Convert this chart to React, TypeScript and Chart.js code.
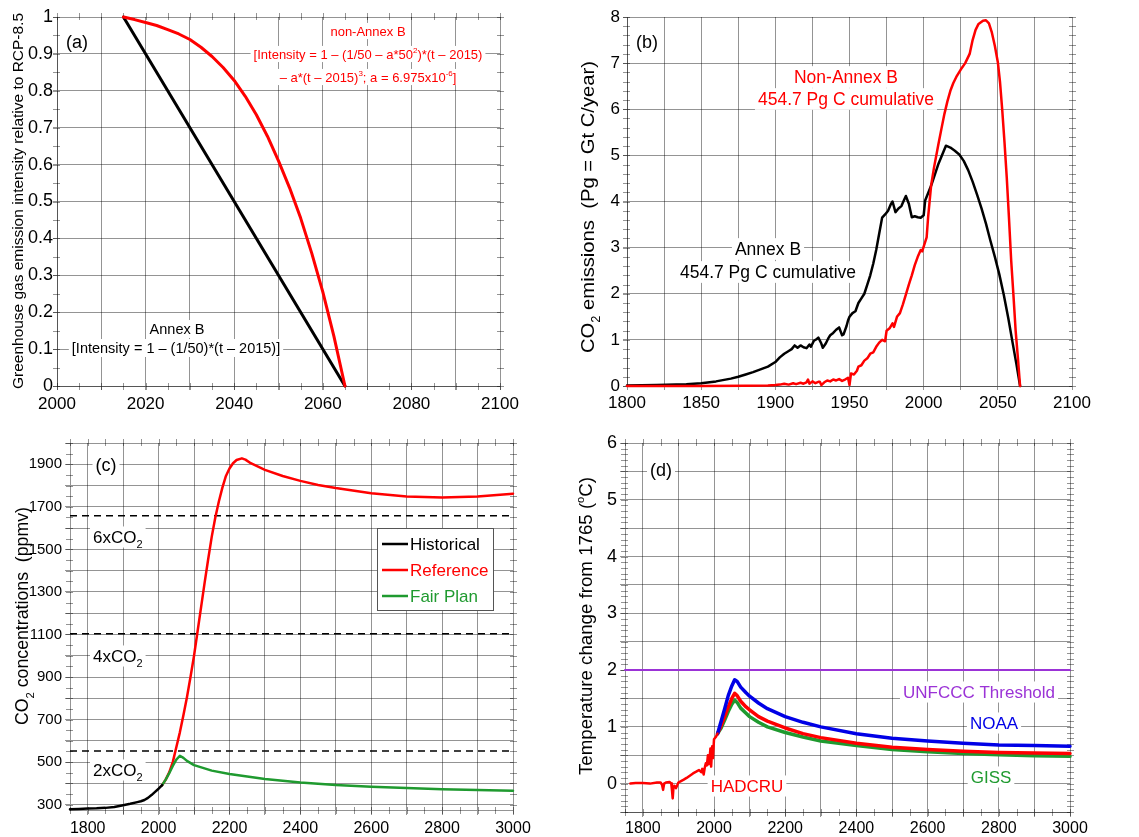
import React, { useEffect, useRef } from 'react';
import { Chart, registerables } from 'chart.js';

Chart.register(...registerables);

type Pt = [number, number];
type Part = [string, '' | 'sub' | 'sup'];

const FONT = "'Liberation Sans', Arial, Helvetica, sans-serif";
const RED = '#ff0000';
const GREEN = '#1f9a2f';
const BLUE = '#0000e6';
const PURPLE = '#9b33d6';
const GRID = 'rgba(0,0,0,0.42)';

// ---------- Panel (a): emission intensity relative to RCP-8.5 ----------
const annexBIntensity: Pt[] = [[2015, 1.0], [2065, 0.0]];
const nonAnnexBIntensity: Pt[] = [
  [2015, 1.0], [2017.5, 0.993], [2020, 0.985], [2022.5, 0.977], [2025, 0.966], [2027.5, 0.954],
  [2030, 0.939], [2032.5, 0.918], [2035, 0.893], [2037.5, 0.863], [2040, 0.828], [2042.5, 0.785],
  [2045, 0.735], [2047.5, 0.677], [2050, 0.61], [2052.5, 0.537], [2055, 0.455], [2057.5, 0.36],
  [2060, 0.255], [2062.5, 0.135], [2065, 0.0],
];

// ---------- Panel (b): CO2 emissions (Pg C / year) ----------
const annexBEmissions: Pt[] = [
  [1800, 0.01], [1820, 0.02], [1840, 0.04], [1850, 0.06], [1860, 0.1], [1870, 0.16], [1875, 0.2],
  [1880, 0.25], [1885, 0.3], [1890, 0.36], [1895, 0.42], [1900, 0.52], [1903, 0.62], [1906, 0.7],
  [1909, 0.76], [1911, 0.8], [1913, 0.88], [1915, 0.83], [1917, 0.88], [1919, 0.84], [1921, 0.82],
  [1923, 0.9], [1924, 0.85], [1926, 0.98], [1928, 1.02], [1929, 1.05], [1931, 0.92], [1932, 0.83],
  [1934, 0.92], [1936, 1.05], [1937, 1.1], [1939, 1.15], [1941, 1.22], [1943, 1.27], [1945, 1.1],
  [1946, 1.12], [1948, 1.3], [1949, 1.42], [1950, 1.5], [1952, 1.58], [1954, 1.62], [1956, 1.8],
  [1958, 1.9], [1960, 2.0], [1962, 2.2], [1964, 2.4], [1966, 2.65], [1968, 2.95], [1970, 3.3],
  [1972, 3.65], [1974, 3.72], [1976, 3.8], [1978, 3.95], [1979, 4.0], [1981, 3.77], [1983, 3.85],
  [1985, 3.9], [1987, 4.05], [1988, 4.12], [1990, 3.95], [1992, 3.66], [1994, 3.68], [1996, 3.66],
  [1998, 3.65], [2000, 3.7], [2001, 4.02], [2005, 4.34], [2010, 4.82], [2015, 5.21], [2018, 5.17],
  [2021, 5.1], [2024, 5.02], [2027, 4.88], [2030, 4.68], [2033, 4.43], [2036, 4.15], [2039, 3.85],
  [2042, 3.52], [2045, 3.15], [2048, 2.8], [2051, 2.42], [2054, 1.98], [2057, 1.48], [2060, 0.93],
  [2062.5, 0.48], [2065, 0.0],
];
const nonAnnexBEmissions: Pt[] = [
  [1800, 0.0], [1850, 0.0], [1880, 0.005], [1895, 0.01], [1900, 0.02], [1903, 0.03], [1906, 0.05],
  [1909, 0.03], [1912, 0.06], [1914, 0.04], [1917, 0.07], [1919, 0.05], [1921, 0.08], [1922, 0.14],
  [1923, 0.05], [1925, 0.1], [1927, 0.06], [1929, 0.09], [1930, 0.09], [1931, 0.02], [1933, 0.08],
  [1935, 0.12], [1937, 0.1], [1939, 0.14], [1941, 0.12], [1943, 0.15], [1945, 0.11], [1947, 0.14],
  [1949, 0.18], [1950, 0.02], [1951, 0.27], [1953, 0.25], [1955, 0.33], [1956, 0.42], [1958, 0.45],
  [1960, 0.55], [1962, 0.6], [1964, 0.7], [1966, 0.73], [1968, 0.85], [1970, 0.94], [1972, 1.0],
  [1974, 0.97], [1975, 1.2], [1977, 1.25], [1979, 1.36], [1980, 1.28], [1982, 1.5], [1984, 1.58],
  [1986, 1.77], [1988, 1.98], [1990, 2.2], [1992, 2.4], [1994, 2.62], [1996, 2.8], [1998, 2.95],
  [1999, 2.92], [2000, 3.02], [2002, 3.22], [2003, 3.66], [2005, 4.34], [2007, 4.74], [2010, 5.25],
  [2012, 5.58], [2014, 5.9], [2016, 6.17], [2018, 6.4], [2020, 6.57], [2022, 6.7], [2025, 6.86],
  [2028, 7.0], [2031, 7.2], [2033, 7.5], [2035, 7.72], [2037, 7.85], [2040, 7.92], [2042, 7.93],
  [2044, 7.86], [2046, 7.66], [2048, 7.37], [2050, 7.02], [2051.5, 6.58], [2053, 5.97], [2054.5, 5.28],
  [2056, 4.53], [2057.5, 3.65], [2059, 2.72], [2060.5, 1.98], [2062, 1.2], [2063.5, 0.62], [2065, 0.0],
];

// ---------- Panel (c): CO2 concentrations (ppmv) ----------
const historicalCO2: Pt[] = [
  [1750, 278], [1775, 280], [1800, 282], [1825, 283], [1850, 285], [1875, 289], [1900, 297],
  [1920, 304], [1940, 312], [1950, 316], [1960, 322], [1970, 332], [1980, 345], [1990, 360],
  [2000, 375], [2010, 392],
];
const referenceCO2: Pt[] = [
  [2010, 392], [2020, 418], [2030, 452], [2040, 500], [2050, 570], [2060, 640], [2070, 720],
  [2080, 805], [2090, 900], [2100, 1000], [2110, 1115], [2120, 1230], [2130, 1345], [2140, 1455],
  [2150, 1560], [2160, 1650], [2170, 1725], [2180, 1790], [2190, 1845], [2200, 1880], [2210, 1905],
  [2220, 1920], [2235, 1928], [2245, 1922], [2260, 1905], [2300, 1874], [2350, 1845], [2400, 1822],
  [2450, 1803], [2500, 1788], [2600, 1764], [2700, 1749], [2800, 1744], [2900, 1749], [3000, 1762],
];
const fairPlanCO2: Pt[] = [
  [2010, 392], [2020, 418], [2030, 448], [2040, 482], [2050, 512], [2060, 530], [2070, 520],
  [2080, 506], [2100, 486], [2150, 460], [2200, 444], [2300, 421], [2400, 404], [2500, 392],
  [2600, 384], [2700, 378], [2800, 373], [2900, 369], [3000, 366],
];
const doublingYears = [1750, 3000];
const doublingLevels = [552, 1104, 1658]; // 2x, 4x, 6x pre-industrial CO2
const doublingLabels = ['2x', '4x', '6x'];

// ---------- Panel (d): temperature change from 1765 (°C) ----------
const hadcruObserved: Pt[] = [
  [1765, 0.0], [1780, 0.01], [1800, 0.01], [1820, 0.0], [1840, 0.02], [1850, 0.02], [1854, -0.02],
  [1857, -0.11], [1860, 0.0], [1865, 0.02], [1875, 0.03], [1880, 0.0], [1882, -0.12], [1884, -0.26],
  [1886, -0.08], [1889, -0.04], [1893, -0.08], [1896, -0.04], [1900, 0.02], [1906, 0.04], [1915, 0.07],
  [1923, 0.1], [1932, 0.14], [1941, 0.18], [1950, 0.21], [1958, 0.24], [1964, 0.2], [1967, 0.26],
  [1971, 0.16], [1974, 0.28], [1977, 0.36], [1980, 0.32], [1983, 0.5], [1985, 0.34], [1987, 0.4],
  [1990, 0.62], [1992, 0.3], [1995, 0.66], [1997, 0.45], [2000, 0.78], [2005, 0.82], [2010, 0.88],
];
const noaaModel: Pt[] = [
  [2010, 0.88], [2020, 1.1], [2030, 1.32], [2040, 1.55], [2050, 1.72], [2058, 1.83], [2065, 1.8],
  [2075, 1.7], [2090, 1.6], [2100, 1.54], [2125, 1.42], [2150, 1.32], [2200, 1.18], [2250, 1.08],
  [2300, 1.0], [2400, 0.88], [2500, 0.8], [2600, 0.75], [2700, 0.71], [2800, 0.68], [2900, 0.67],
  [3000, 0.66],
];
const hadcruModel: Pt[] = [
  [2010, 0.88], [2020, 1.02], [2030, 1.18], [2040, 1.35], [2050, 1.5], [2058, 1.59], [2065, 1.55],
  [2075, 1.45], [2090, 1.35], [2100, 1.3], [2125, 1.18], [2150, 1.1], [2200, 0.98], [2250, 0.88],
  [2300, 0.81], [2400, 0.71], [2500, 0.64], [2600, 0.6], [2700, 0.57], [2800, 0.55], [2900, 0.54],
  [3000, 0.53],
];
const gissModel: Pt[] = [
  [2010, 0.88], [2020, 0.98], [2030, 1.12], [2040, 1.27], [2050, 1.4], [2058, 1.47], [2065, 1.43],
  [2075, 1.33], [2090, 1.24], [2100, 1.18], [2125, 1.08], [2150, 1.0], [2200, 0.9], [2250, 0.82],
  [2300, 0.75], [2400, 0.67], [2500, 0.6], [2600, 0.56], [2700, 0.53], [2800, 0.51], [2900, 0.49],
  [3000, 0.48],
];
const thresholdYears = [1750, 3000];
const unfcccThreshold = 2;

// ---------- helpers ----------
const toXY = (pts: Pt[]) => pts.map(([x, y]) => ({ x, y }));

function drawRich(
  ctx: CanvasRenderingContext2D, parts: Part[], x: number, y: number, size: number,
  color: string, align: 'left' | 'center', bg: boolean, fitLen = 0,
) {
  ctx.save();
  ctx.translate(x, y);
  const small = Math.round(size * 0.62);
  const widths = parts.map(([t, m]) => {
    ctx.font = `${m ? small : size}px ${FONT}`;
    return ctx.measureText(t).width;
  });
  const total = widths.reduce((a, b) => a + b, 0);
  if (fitLen > 0) ctx.scale(fitLen / total, 1);
  let cx = align === 'center' ? -total / 2 : 0;
  if (bg) {
    ctx.fillStyle = '#fff';
    ctx.fillRect(cx - 3, -size * 0.62, total + 6, size * 1.24);
  }
  ctx.fillStyle = color;
  ctx.textAlign = 'left';
  ctx.textBaseline = 'alphabetic';
  const base = size * 0.36;
  parts.forEach(([t, m], i) => {
    ctx.font = `${m ? small : size}px ${FONT}`;
    const dy = m === 'sub' ? size * 0.3 : m === 'sup' ? -size * 0.42 : 0;
    ctx.fillText(t, cx, base + dy);
    cx += widths[i];
  });
  ctx.restore();
}

interface TextItem {
  x: number; y: number; parts: Part[]; size: number; color: string;
  align?: 'left' | 'center'; bg?: boolean;
}
interface LegendItem { label: string; color: string }
interface Decor {
  texts: TextItem[];
  yTitle: { x: number; y: number; len: number; parts: Part[]; size: number };
  minorY?: number;
  minorX?: number;
  legend?: { x0: number; y0: number; x1: number; y1: number; items: LegendItem[]; rowY: number[]; size: number };
}

function decorPlugin(d: Decor) {
  return {
    id: 'decor',
    beforeDatasetsDraw(chart: any) {
      const ctx: CanvasRenderingContext2D = chart.ctx;
      const { left, right, top, bottom } = chart.chartArea;
      const xs = chart.scales.x;
      const ys = chart.scales.y;
      ctx.save();
      ctx.strokeStyle = GRID;
      ctx.lineWidth = 1;
      ctx.beginPath();
      if (d.minorY) {
        const n0 = Math.ceil(ys.min / d.minorY - 1e-9);
        const n1 = Math.floor(ys.max / d.minorY + 1e-9);
        for (let n = n0; n <= n1; n++) {
          const py = Math.round(ys.getPixelForValue(n * d.minorY)) + 0.5;
          ctx.moveTo(left - 4, py); ctx.lineTo(left + 3, py);
          ctx.moveTo(right - 3, py); ctx.lineTo(right + 4, py);
        }
      }
      if (d.minorX) {
        const n0 = Math.ceil(xs.min / d.minorX - 1e-9);
        const n1 = Math.floor(xs.max / d.minorX + 1e-9);
        for (let n = n0; n <= n1; n++) {
          const px = Math.round(xs.getPixelForValue(n * d.minorX)) + 0.5;
          ctx.moveTo(px, bottom - 3); ctx.lineTo(px, bottom + 4);
          ctx.moveTo(px, top - 4); ctx.lineTo(px, top + 3);
        }
      }
      ctx.stroke();
      ctx.restore();
      for (const t of d.texts) {
        drawRich(ctx, t.parts, t.x, t.y, t.size, t.color, t.align || 'center', !!t.bg);
      }
      ctx.save();
      ctx.translate(d.yTitle.x, d.yTitle.y);
      ctx.rotate(-Math.PI / 2);
      drawRich(ctx, d.yTitle.parts, 0, 0, d.yTitle.size, '#000', 'center', false, d.yTitle.len);
      ctx.restore();
    },
    afterDatasetsDraw(chart: any) {
      const lg = d.legend;
      if (!lg) return;
      const ctx: CanvasRenderingContext2D = chart.ctx;
      ctx.save();
      ctx.fillStyle = '#fff';
      ctx.fillRect(lg.x0, lg.y0, lg.x1 - lg.x0, lg.y1 - lg.y0);
      ctx.strokeStyle = '#555';
      ctx.lineWidth = 1;
      ctx.strokeRect(lg.x0 + 0.5, lg.y0 + 0.5, lg.x1 - lg.x0, lg.y1 - lg.y0);
      lg.items.forEach((it, i) => {
        const y = lg.rowY[i];
        ctx.strokeStyle = it.color;
        ctx.lineWidth = 2.5;
        ctx.beginPath();
        ctx.moveTo(lg.x0 + 5, y);
        ctx.lineTo(lg.x0 + 31, y);
        ctx.stroke();
        ctx.fillStyle = it.color;
        ctx.font = `${lg.size}px ${FONT}`;
        ctx.textAlign = 'left';
        ctx.textBaseline = 'middle';
        ctx.fillText(it.label, lg.x0 + 33, y + 1);
      });
      ctx.restore();
    },
  };
}

interface AxisSpec {
  min: number; max: number; step: number; includeBounds?: boolean;
  label: (v: number) => string; size: number; padding: number; tick: number; fit: number;
}

function makeScale(a: AxisSpec, horizontal: boolean) {
  return {
    type: 'linear',
    min: a.min,
    max: a.max,
    afterFit: (s: any) => {
      if (horizontal) s.height = a.fit; else s.width = a.fit;
    },
    grid: { color: GRID, lineWidth: 1, tickLength: a.tick, drawTicks: true },
    border: { display: true, color: GRID, width: 1 },
    ticks: {
      stepSize: a.step,
      includeBounds: a.includeBounds !== false,
      autoSkip: false,
      maxRotation: 0,
      minRotation: 0,
      color: '#000',
      padding: a.padding,
      font: { family: FONT, size: a.size },
      callback: (v: any) => a.label(Number(v)),
    },
  };
}

function makeConfig(opts: {
  datasets: any[]; x: AxisSpec; y: AxisSpec; pad: { left: number; right: number; top: number; bottom: number }; decor: Decor;
}) {
  return {
    type: 'line',
    data: { datasets: opts.datasets },
    options: {
      animation: false,
      responsive: false,
      events: [],
      layout: { padding: opts.pad },
      plugins: { legend: { display: false }, tooltip: { enabled: false } },
      elements: { point: { radius: 0 }, line: { tension: 0, borderCapStyle: 'round', borderJoinStyle: 'round' } },
      scales: { x: makeScale(opts.x, true), y: makeScale(opts.y, false) },
    },
    plugins: [decorPlugin(opts.decor)],
  };
}

const line = (pts: Pt[], color: string, width: number, extra: any = {}) => ({
  data: toXY(pts), borderColor: color, backgroundColor: color, borderWidth: width,
  pointRadius: 0, fill: false, clip: 6, ...extra,
});

const round1 = (v: number) => String(Math.round(v * 10) / 10);
const isMult = (v: number, m: number) => Math.abs(v / m - Math.round(v / m)) < 1e-6;

// ---------- panel configs ----------
const configA = makeConfig({
  datasets: [
    line(nonAnnexBIntensity, RED, 3),
    line(annexBIntensity, '#000', 3),
  ],
  x: { min: 2000, max: 2100, step: 10, label: (v) => (isMult(v, 20) ? String(v) : ''), size: 17, padding: 4, tick: 4, fit: 34 },
  y: { min: 0, max: 1, step: 0.1, label: round1, size: 18, padding: 0, tick: 4, fit: 57 },
  pad: { left: 0, right: 70, top: 17, bottom: 0 },
  decor: {
    minorY: 0.05,
    minorX: 5,
    yTitle: { x: 17, y: 201, len: 376, size: 15.5, parts: [['Greenhouse gas emission intensity relative to RCP-8.5', '']] },
    texts: [
      { x: 77, y: 42, size: 18, color: '#000', parts: [['(a)', '']] },
      { x: 368, y: 31, size: 13, color: RED, bg: true, parts: [['non-Annex B', '']] },
      { x: 368, y: 54, size: 13, color: RED, bg: true, parts: [['[Intensity = 1 – (1/50 – a*50', ''], ['2', 'sup'], [')*(t – 2015)', '']] },
      { x: 368, y: 77, size: 13, color: RED, bg: true, parts: [['– a*(t – 2015)', ''], ['3', 'sup'], ['; a = 6.975x10', ''], ['-6', 'sup'], [']', '']] },
      { x: 177, y: 329, size: 14.5, color: '#000', bg: true, parts: [['Annex B', '']] },
      { x: 176, y: 348, size: 14.5, color: '#000', bg: true, parts: [['[Intensity = 1 – (1/50)*(t – 2015)]', '']] },
    ],
  },
});

const configB = makeConfig({
  datasets: [
    line(nonAnnexBEmissions, RED, 2.5),
    line(annexBEmissions, '#000', 2.5),
  ],
  x: { min: 1800, max: 2100, step: 25, label: (v) => (isMult(v, 50) ? String(v) : ''), size: 17, padding: 3.5, tick: 4, fit: 34 },
  y: { min: 0, max: 8, step: 1, label: (v) => String(v), size: 17, padding: 3, tick: 4, fit: 57 },
  pad: { left: 0, right: 67, top: 17, bottom: 0 },
  decor: {
    minorY: 0.2,
    yTitle: { x: 17, y: 207, len: 292, size: 19, parts: [['CO', ''], ['2', 'sub'], [' emissions  (Pg = Gt C/year)', '']] },
    texts: [
      { x: 77, y: 42, size: 18, color: '#000', parts: [['(b)', '']] },
      { x: 276, y: 77, size: 17.5, color: RED, bg: true, parts: [['Non-Annex B', '']] },
      { x: 276, y: 99, size: 17.5, color: RED, bg: true, parts: [['454.7 Pg C cumulative', '']] },
      { x: 198, y: 249, size: 17.5, color: '#000', bg: true, parts: [['Annex B', '']] },
      { x: 198, y: 272, size: 17.5, color: '#000', bg: true, parts: [['454.7 Pg C cumulative', '']] },
    ],
  },
});

const doublingDatasets = doublingLevels.map((lv) =>
  line(doublingYears.map((yr) => [yr, lv] as Pt), '#000', 1.5, { borderDash: [7, 5], borderCapStyle: 'butt' }),
);

const configC = makeConfig({
  datasets: [
    line(historicalCO2, '#000', 2.5),
    line(fairPlanCO2, GREEN, 2.5),
    line(referenceCO2, RED, 2.5),
    ...doublingDatasets,
  ],
  x: { min: 1750, max: 3000, step: 100, includeBounds: false, label: (v) => (isMult(v, 200) ? String(v) : ''), size: 16, padding: 3.5, tick: 5, fit: 27 },
  y: { min: 275, max: 2000, step: 100, includeBounds: false, label: (v) => (isMult(v - 100, 200) ? String(v) : ''), size: 15, padding: 3, tick: 5, fit: 70 },
  pad: { left: 0, right: 57, top: 23, bottom: 0 },
  decor: {
    minorY: 50,
    minorX: 50,
    yTitle: { x: 22, y: 196, len: 218, size: 17.5, parts: [['CO', ''], ['2', 'sub'], [' concentrations  (ppmv)', '']] },
    texts: [
      { x: 106, y: 45, size: 18, color: '#000', bg: true, parts: [['(c)', '']] },
      ...doublingLevels.map((lv, i) => ({
        x: 93, y: [350, 236, 117][i], size: 17, color: '#000', align: 'left' as const, bg: true,
        parts: [[doublingLabels[i] + 'CO', ''], ['2', 'sub']] as Part[],
      })),
    ],
    legend: {
      x0: 377, y0: 108, x1: 493, y1: 190, size: 17, rowY: [124, 150, 176],
      items: [
        { label: 'Historical', color: '#000' },
        { label: 'Reference', color: RED },
        { label: 'Fair Plan', color: GREEN },
      ],
    },
  },
});

const configD = makeConfig({
  datasets: [
    line(hadcruObserved, RED, 2.5),
    line(noaaModel, BLUE, 3.5),
    line(hadcruModel, RED, 3.5),
    line(gissModel, GREEN, 3.5),
    line(thresholdYears.map((yr) => [yr, unfcccThreshold] as Pt), PURPLE, 2),
  ],
  x: { min: 1750, max: 3000, step: 100, includeBounds: false, label: (v) => (isMult(v, 200) ? String(v) : ''), size: 16, padding: 2, tick: 5, fit: 25 },
  y: { min: -0.5, max: 6, step: 0.5, label: (v) => (isMult(v, 1) ? String(Math.round(v)) : ''), size: 18, padding: 3, tick: 5, fit: 55 },
  pad: { left: 0, right: 69, top: 23, bottom: 0 },
  decor: {
    minorY: 0.1,
    minorX: 50,
    yTitle: { x: 15, y: 206, len: 298, size: 18.5, parts: [['Temperature change from 1765 (', ''], ['o', 'sup'], ['C)', '']] },
    texts: [
      { x: 91, y: 50, size: 18, color: '#000', bg: true, parts: [['(d)', '']] },
      { x: 409, y: 272, size: 17, color: PURPLE, bg: true, parts: [['UNFCCC Threshold', '']] },
      { x: 424, y: 303, size: 17, color: BLUE, bg: true, parts: [['NOAA', '']] },
      { x: 421, y: 357, size: 17, color: GREEN, bg: true, parts: [['GISS', '']] },
      { x: 177, y: 366, size: 17, color: RED, bg: true, parts: [['HADCRU', '']] },
    ],
  },
});

function Panel({ left, top, width, height, config }: { left: number; top: number; width: number; height: number; config: any }) {
  const ref = useRef<HTMLCanvasElement>(null);
  useEffect(() => {
    if (!ref.current) return;
    const chart = new Chart(ref.current, config);
    return () => chart.destroy();
  }, [config]);
  return (
    <canvas
      ref={ref}
      width={width}
      height={height}
      style={{ position: 'absolute', left, top, width, height, display: 'block' }}
    />
  );
}

export default function App() {
  return (
    <div style={{ position: 'fixed', left: 0, top: 0, width: 1139, height: 837, background: '#fff', overflow: 'hidden' }}>
      <Panel left={0} top={0} width={570} height={420} config={configA} />
      <Panel left={570} top={0} width={569} height={420} config={configB} />
      <Panel left={0} top={420} width={570} height={417} config={configC} />
      <Panel left={570} top={420} width={569} height={417} config={configD} />
    </div>
  );
}
